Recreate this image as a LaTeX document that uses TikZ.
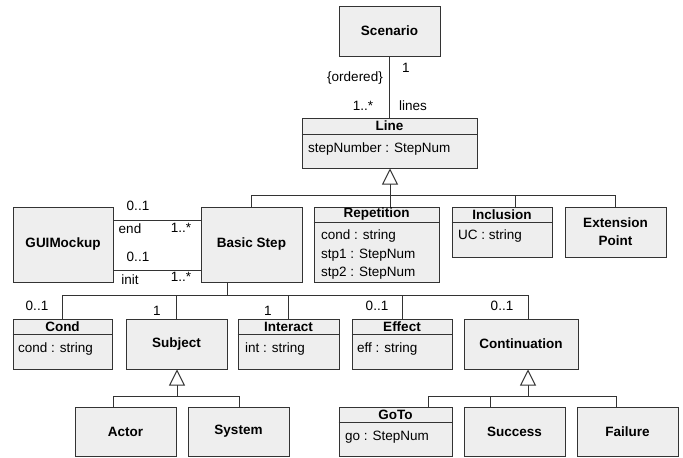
\documentclass[tikz,border=0pt]{standalone}
\usepackage{fontspec}
\setmainfont{Liberation Sans}
\usetikzlibrary{arrows.meta}
\definecolor{boxfill}{HTML}{EEEEEE}
\definecolor{linec}{HTML}{333333}
\begin{document}
\begin{tikzpicture}[x=1pt,y=-1pt,
 every node/.style={font=\fontsize{13.5pt}{16pt}\selectfont, inner sep=0pt},
 cls/.style={draw=linec, fill=boxfill, line width=1pt, font=\fontsize{13.5pt}{18pt}\selectfont\bfseries, align=center},
 conn/.style={draw=linec, line width=1pt},
 gen/.style={conn, -{Triangle[open, width=16pt, length=16pt, fill=white]}},
 attr/.style={anchor=west},
 hdr/.style={font=\fontsize{13.5pt}{16pt}\selectfont\bfseries},
 hline/.style={draw=linec, line width=1pt}
]
\useasboundingbox (0,0) rectangle (683,458);

% ---- classes ----
\node[cls, minimum width=101pt, minimum height=50pt] (scen) at (389.5,31) {Scenario};

\node[cls, minimum width=175pt, minimum height=50pt] (line) at (389.5,143) {};
\draw[hline] ([yshift=-17pt]line.north west) -- ([yshift=-17pt]line.north east);
\node[hdr] (lineh) at ([yshift=-8.5pt]line.north) {Line};
\node[attr] (linea) at (308,149) {stepNumber : StepNum};

\node[cls, minimum width=100pt, minimum height=75pt] (gui) at (63,244.5) {GUIMockup};
\node[cls, minimum width=101pt, minimum height=75pt] (basic) at (251.5,244.5) {Basic Step};

\node[cls, minimum width=125pt, minimum height=75pt] (rep) at (376.5,244.5) {};
\draw[hline] ([yshift=-16pt]rep.north west) -- ([yshift=-16pt]rep.north east);
\node[hdr] (reph) at ([yshift=-8pt]rep.north) {Repetition};
\node[attr] (repa) at (321,236) {cond : string};
\node[attr] (repb) at (321,255) {stp1 : StepNum};
\node[attr] (repc) at (321,273) {stp2 : StepNum};

\node[cls, minimum width=100pt, minimum height=50pt] (inc) at (502,232) {};
\draw[hline] ([yshift=-16pt]inc.north west) -- ([yshift=-16pt]inc.north east);
\node[hdr] (inch) at ([yshift=-8pt]inc.north) {Inclusion};
\node[attr] (inca) at (458,236) {UC : string};

\node[cls, minimum width=101pt, minimum height=50pt] (ext) at (615.5,232) {Extension\\Point};

\node[cls, minimum width=99pt, minimum height=50pt] (cond) at (62.5,344) {};
\draw[hline] ([yshift=-16pt]cond.north west) -- ([yshift=-16pt]cond.north east);
\node[hdr] (condh) at ([yshift=-8pt]cond.north) {Cond};
\node[attr] (conda) at (18,349) {cond : string};

\node[cls, minimum width=101pt, minimum height=50pt] (subj) at (176.5,344) {Subject};

\node[cls, minimum width=101pt, minimum height=50pt] (inter) at (288.5,344) {};
\draw[hline] ([yshift=-16pt]inter.north west) -- ([yshift=-16pt]inter.north east);
\node[hdr] (interh) at ([yshift=-8pt]inter.north) {Interact};
\node[attr] (intera) at (245,349) {int : string};

\node[cls, minimum width=100pt, minimum height=50pt] (eff) at (402,344) {};
\draw[hline] ([yshift=-16pt]eff.north west) -- ([yshift=-16pt]eff.north east);
\node[hdr] (effh) at ([yshift=-8pt]eff.north) {Effect};
\node[attr] (effa) at (357,349) {eff : string};

\node[cls, minimum width=114pt, minimum height=50pt] (cont) at (521,344) {Continuation};

\node[cls, minimum width=101pt, minimum height=49pt] (actor) at (125.5,431.5) {Actor};
\node[cls, minimum width=101pt, minimum height=49pt] (system) at (238.5,431.5) {System};

\node[cls, minimum width=113pt, minimum height=49pt] (goto) at (395.5,431.5) {};
\draw[hline] ([yshift=-16pt]goto.north west) -- ([yshift=-16pt]goto.north east);
\node[hdr] (gotoh) at ([yshift=-8pt]goto.north) {GoTo};
\node[attr] (gotoa) at (345,437) {go : StepNum};

\node[cls, minimum width=101pt, minimum height=49pt] (succ) at (514.5,431.5) {Success};
\node[cls, minimum width=101pt, minimum height=49pt] (fail) at (627.5,431.5) {Failure};

% ---- Scenario -- Line ----
\draw[conn] (scen.south) -- (line.north);
\node (m1) at (406,68) {1};
\node (m2) at (355,78) {\{ordered\}};
\node (m3) at (363,106) {1..*};
\node (m4) at (413,106) {lines};

% ---- Line generalization ----
\coordinate (g1) at (390,195);
\coordinate (g1c) at (515,195);
\draw[gen] (g1) -- (g1 |- line.south);
\draw[conn] (basic.north) |- (ext.north |- g1) -- (ext.north);
\draw[conn] (g1) -- (rep.north -| g1);
\draw[conn] (g1c) -- (inc.north -| g1c);

% ---- GUIMockup -- Basic Step ----
\draw[conn] ([yshift=24.5pt]gui.east) -- ([yshift=24.5pt]basic.west);
\draw[conn] ([yshift=-25.5pt]gui.east) -- ([yshift=-25.5pt]basic.west);
\node (a1) at (138,206) {0..1};
\node (a2) at (130,229) {end};
\node (a3) at (181,228) {1..*};
\node (a4) at (138,257) {0..1};
\node (a5) at (130,280) {init};
\node (a6) at (181,277) {1..*};

% ---- Basic Step parts ----
\coordinate (b0) at (227,295);
\coordinate (b5) at (528,295);
\draw[conn] (b0 |- basic.south) -- (b0);
\draw[conn] (cond.north) |- (b5) -- (b5 |- cont.north);
\draw[conn] (subj.north) -- (subj.north |- b0);
\draw[conn] (inter.north) -- (inter.north |- b0);
\draw[conn] (eff.north) -- (eff.north |- b0);
\node (p1) at (37,306) {0..1};
\node (p2) at (157,311) {1};
\node (p3) at (268,311) {1};
\node (p4) at (377,306) {0..1};
\node (p5) at (502,306) {0..1};

% ---- Subject generalization ----
\coordinate (s0) at (177,396);
\coordinate (s1) at (113,396);
\coordinate (s2) at (239,396);
\draw[gen] (s0) -- (s0 |- subj.south);
\draw[conn] (s1 |- actor.north) -- (s1) -- (s2) -- (s2 |- system.north);

% ---- Continuation generalization ----
\coordinate (c0) at (528,396);
\coordinate (c1) at (428,396);
\coordinate (c2) at (490,396);
\coordinate (c3) at (616,396);
\draw[gen] (c0) -- (c0 |- cont.south);
\draw[conn] (c1 |- goto.north) -- (c1) -- (c3) -- (c3 |- fail.north);
\draw[conn] (c2) -- (c2 |- succ.north);
\end{tikzpicture}
\end{document}
